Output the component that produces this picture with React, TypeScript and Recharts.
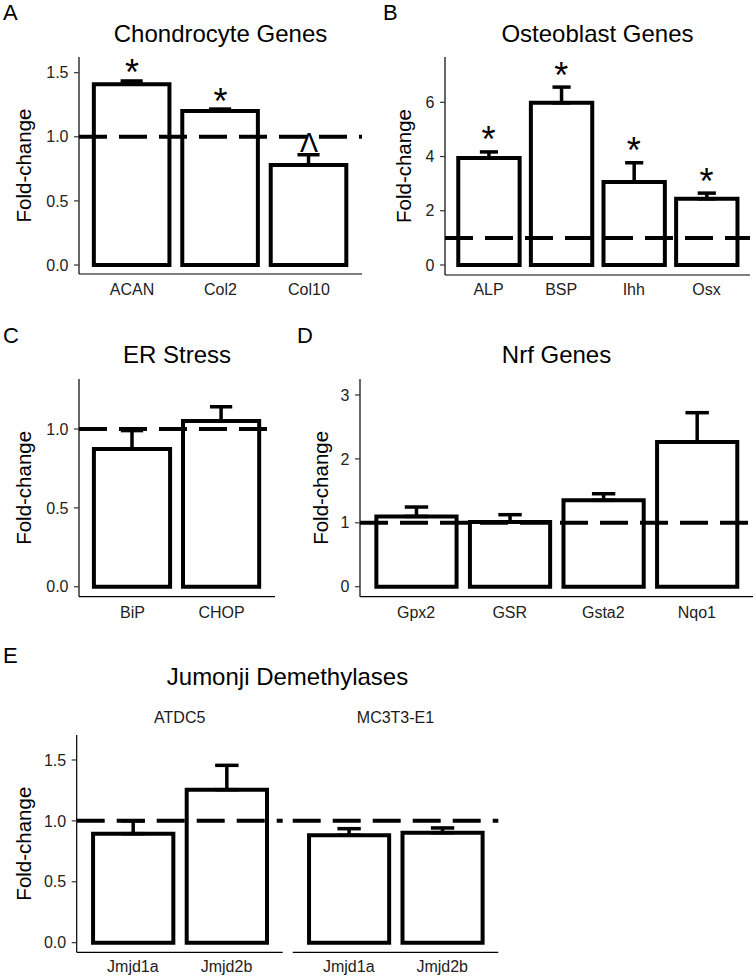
import React from 'react';
import { ComposedChart, Bar, Line, XAxis, YAxis, ReferenceLine, ErrorBar } from 'recharts';

const FONT = '"Liberation Sans", Arial, Helvetica, sans-serif';

// ---- Data ----
const chondroGenes = ['ACAN', 'Col2', 'Col10'];
const chondroMean = [1.41, 1.2, 0.78];
const chondroSem = [0.025, 0.016, 0.08];
const chondroSig = ['*', '*', '^'];

const osteoGenes = ['ALP', 'BSP', 'Ihh', 'Osx'];
const osteoMean = [3.95, 5.98, 3.06, 2.44];
const osteoSem = [0.22, 0.58, 0.71, 0.21];
const osteoSig = ['*', '*', '*', '*'];

const erGenes = ['BiP', 'CHOP'];
const erMean = [0.873, 1.051];
const erSem = [0.117, 0.09];
const erSig = ['', ''];

const nrfGenes = ['Gpx2', 'GSR', 'Gsta2', 'Nqo1'];
const nrfMean = [1.1, 1.013, 1.352, 2.264];
const nrfSem = [0.147, 0.114, 0.103, 0.459];
const nrfSig = ['', '', '', ''];

const jmjGenes = ['Jmjd1a', 'Jmjd2b'];
const atdc5Mean = [0.895, 1.256];
const atdc5Sem = [0.105, 0.2];
const mc3t3Mean = [0.882, 0.903];
const mc3t3Sem = [0.054, 0.039];
const jmjSig = ['', ''];

const ticksA = [0, 0.5, 1, 1.5];
const ticksB = [0, 2, 4, 6];
const ticksC = [0, 0.5, 1];
const ticksD = [0, 1, 2, 3];
const ticksE = [0, 0.5, 1, 1.5];

type Row = { name: string; mean: number; err: [number, number]; sig: string; top: number | null };

const build = (names: string[], mean: number[], sem: number[], sig: string[]): Row[] =>
  names.map((n, i) => ({
    name: n,
    mean: mean[i],
    err: [0, sem[i]],
    sig: sig[i],
    top: sig[i] ? mean[i] + sem[i] : null,
  }));

const dataA = build(chondroGenes, chondroMean, chondroSem, chondroSig);
const dataB = build(osteoGenes, osteoMean, osteoSem, osteoSig);
const dataC = build(erGenes, erMean, erSem, erSig);
const dataD = build(nrfGenes, nrfMean, nrfSem, nrfSig);
const dataE1 = build(jmjGenes, atdc5Mean, atdc5Sem, jmjSig);
const dataE2 = build(jmjGenes, mc3t3Mean, mc3t3Sem, jmjSig);

type PanelProps = {
  data: Row[];
  left: number;
  top: number;
  width: number;
  height: number;
  margin: { top: number; right: number; bottom: number; left: number };
  yAxisWidth: number;
  xAxisHeight: number;
  domain: [number, number];
  ticks: number[];
  digits: number;
  showY: boolean;
  labelX?: number;
  xTickMargin: number;
  starOffset?: number;
};

const Panel = (p: PanelProps) => {
  const plotW = p.width - p.margin.left - p.margin.right - (p.showY ? p.yAxisWidth : 0);
  const n = p.data.length;
  const unit = plotW / (n + 0.2);
  const pad = 0.1 * unit;
  const barSize = 0.9 * unit - 4;
  const capHalf = 0.125 * unit;
  const starOff = p.starOffset ?? 0;

  const yLabel = (props: any) => {
    const vb = props.viewBox || {};
    const cx = p.labelX ?? 30;
    const cy = (vb.y ?? 0) + (vb.height ?? 0) / 2;
    return (
      <text
        x={cx}
        y={cy}
        transform={`rotate(-90 ${cx} ${cy})`}
        textAnchor="middle"
        fontFamily={FONT}
        fontSize={20.5}
        fill="#000"
      >
        Fold-change
      </text>
    );
  };

  const sigDot = (d: any) => {
    const { cx, cy, payload, index } = d;
    if (cy == null || cx == null || !payload || !payload.sig) return <g key={`s${index}`} />;
    if (payload.sig === '^') {
      return (
        <text key={`s${index}`} x={cx} y={cy - 2.3} textAnchor="middle" fontFamily={FONT} fontSize={27} fill="#000">
          Λ
        </text>
      );
    }
    return (
      <text key={`s${index}`} x={cx} y={cy + starOff} textAnchor="middle" fontFamily={FONT} fontSize={36} fill="#000">
        *
      </text>
    );
  };

  return (
    <div style={{ position: 'absolute', left: p.left, top: p.top, width: p.width, height: p.height }}>
      <ComposedChart width={p.width} height={p.height} data={p.data} margin={p.margin}>
        <XAxis
          dataKey="name"
          type="category"
          height={p.xAxisHeight}
          padding={{ left: pad, right: pad }}
          tickLine={false}
          tickSize={0}
          tickMargin={p.xTickMargin}
          interval={0}
          axisLine={{ stroke: '#000', strokeWidth: 1.2 }}
          tick={{ fill: '#222', fontSize: 16, fontFamily: FONT }}
        />
        <YAxis
          type="number"
          hide={!p.showY}
          width={p.yAxisWidth}
          domain={p.domain}
          ticks={p.ticks}
          allowDataOverflow
          interval={0}
          tickFormatter={(v: number) => v.toFixed(p.digits)}
          tickSize={5}
          tickMargin={5.5}
          tickLine={{ stroke: '#333', strokeWidth: 1.2 }}
          axisLine={{ stroke: '#000', strokeWidth: 1.2 }}
          tick={{ fill: '#222', fontSize: 16, fontFamily: FONT }}
          label={p.showY ? yLabel : undefined}
        />
        <Bar
          dataKey="mean"
          fill="#fff"
          stroke="#000"
          strokeWidth={4}
          barSize={barSize}
          isAnimationActive={false}
        >
          <ErrorBar dataKey="err" direction="y" width={capHalf} stroke="#000" strokeWidth={3.5} />
        </Bar>
        <ReferenceLine y={1} stroke="#000" strokeWidth={4} strokeDasharray="28 12" />
        <Line
          dataKey="top"
          stroke="none"
          isAnimationActive={false}
          activeDot={false}
          legendType="none"
          dot={sigDot}
        />
      </ComposedChart>
    </div>
  );
};

const titleStyle = { fontFamily: FONT, fontSize: 24, fill: '#000' } as const;
const letterStyle = { fontFamily: FONT, fontSize: 22, fill: '#000' } as const;
const stripStyle = { fontFamily: FONT, fontSize: 16, fill: '#1a1a1a' } as const;

export default function App() {
  return (
    <div style={{ position: 'absolute', left: 0, top: 0, width: 756, height: 979, background: '#fff', overflow: 'hidden' }}>
      <Panel
        data={dataA}
        left={0}
        top={0}
        width={370}
        height={305}
        margin={{ top: 57, right: 8, bottom: 0, left: 0 }}
        yAxisWidth={79}
        xAxisHeight={31}
        domain={[-0.07, 1.622]}
        ticks={ticksA}
        digits={1}
        showY
        labelX={31}
        xTickMargin={10}
        starOffset={4.5}
      />
      <Panel
        data={dataB}
        left={385}
        top={0}
        width={371}
        height={305}
        margin={{ top: 57, right: 6, bottom: 0, left: 0 }}
        yAxisWidth={60}
        xAxisHeight={30}
        domain={[-0.369, 7.67]}
        ticks={ticksB}
        digits={0}
        showY
        labelX={26}
        xTickMargin={8.5}
        starOffset={0.5}
      />
      <Panel
        data={dataC}
        left={0}
        top={310}
        width={285}
        height={320}
        margin={{ top: 69, right: 10, bottom: 0, left: 0 }}
        yAxisWidth={79}
        xAxisHeight={33.3}
        domain={[-0.063, 1.317]}
        ticks={ticksC}
        digits={1}
        showY
        labelX={31}
        xTickMargin={10}
      />
      <Panel
        data={dataD}
        left={300}
        top={310}
        width={456}
        height={320}
        margin={{ top: 69, right: 3, bottom: 0, left: 0 }}
        yAxisWidth={60}
        xAxisHeight={33.3}
        domain={[-0.156, 3.25]}
        ticks={ticksD}
        digits={0}
        showY
        labelX={28}
        xTickMargin={9.5}
      />
      <Panel
        data={dataE1}
        left={0}
        top={700}
        width={285}
        height={279}
        margin={{ top: 35, right: 2.3, bottom: 0, left: 0 }}
        yAxisWidth={76.7}
        xAxisHeight={26.7}
        domain={[-0.079, 1.705]}
        ticks={ticksE}
        digits={1}
        showY
        labelX={31}
        xTickMargin={8}
      />
      <Panel
        data={dataE2}
        left={290}
        top={700}
        width={215}
        height={279}
        margin={{ top: 35, right: 6.7, bottom: 0, left: 2.7 }}
        yAxisWidth={0}
        xAxisHeight={26.7}
        domain={[-0.079, 1.705]}
        ticks={ticksE}
        digits={1}
        showY={false}
        xTickMargin={8}
      />
      <svg
        width={756}
        height={979}
        style={{ position: 'absolute', left: 0, top: 0, pointerEvents: 'none' }}
      >
        <text x={3} y={20} {...letterStyle}>A</text>
        <text x={220.5} y={41.5} textAnchor="middle" {...titleStyle}>Chondrocyte Genes</text>
        <text x={383} y={20} {...letterStyle}>B</text>
        <text x={597.5} y={41.5} textAnchor="middle" {...titleStyle}>Osteoblast Genes</text>
        <text x={3} y={343} {...letterStyle}>C</text>
        <text x={177} y={363} textAnchor="middle" {...titleStyle}>ER Stress</text>
        <text x={297} y={343} {...letterStyle}>D</text>
        <text x={556.5} y={363} textAnchor="middle" {...titleStyle}>Nrf Genes</text>
        <text x={3} y={663} {...letterStyle}>E</text>
        <text x={287.5} y={685} textAnchor="middle" {...titleStyle}>Jumonji Demethylases</text>
        <text x={179.7} y={723.3} textAnchor="middle" {...stripStyle}>ATDC5</text>
        <text x={395.5} y={723.3} textAnchor="middle" {...stripStyle}>MC3T3-E1</text>
      </svg>
    </div>
  );
}
